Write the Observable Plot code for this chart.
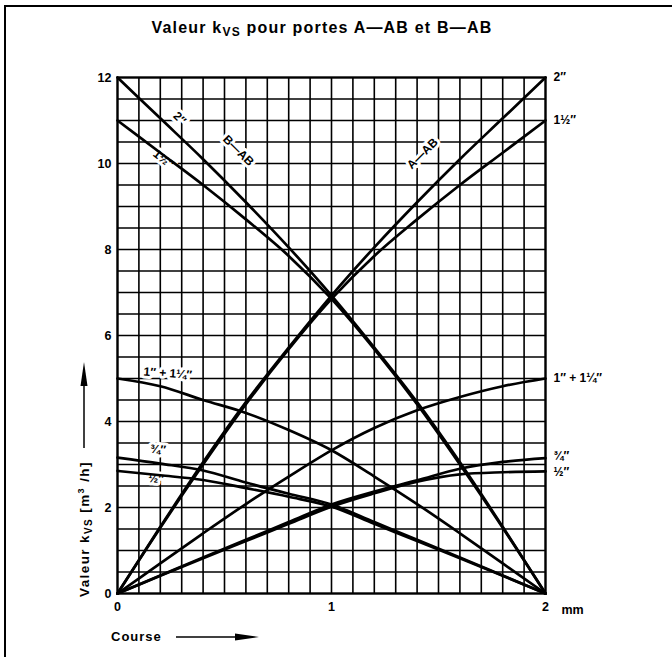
<!DOCTYPE html>
<html><head><meta charset="utf-8">
<script src="https://cdn.jsdelivr.net/npm/d3@7"></script>
<script src="https://cdn.jsdelivr.net/npm/@observablehq/plot@0.6"></script>
<style>
html,body{margin:0;padding:0;background:#fff;}
#wrap{position:relative;width:672px;height:657px;overflow:hidden;font-family:"Liberation Sans",Arial,sans-serif;}
#topline{position:absolute;left:4px;top:5px;width:668px;height:2px;background:#000;}
#leftline{position:absolute;left:4px;top:5px;width:2px;height:652px;background:#000;}
#title{position:absolute;left:-14px;top:19px;width:672px;text-align:center;font-weight:bold;font-size:16px;line-height:18px;letter-spacing:1.2px;color:#000;}
#title sub{font-size:12px;vertical-align:-3px;line-height:0;}
#chart{position:absolute;left:0;top:0;}
</style></head>
<body>
<div id="wrap">
  <div id="chart"></div>
  <div id="topline"></div>
  <div id="leftline"></div>
  <div id="title">Valeur k<sub>VS</sub> pour portes A—AB et B—AB</div>
</div>
<script>
// Course (mm)
const course = [0, 0.2, 0.4, 0.6, 0.8, 1.0, 1.2, 1.4, 1.6, 1.8, 2.0];
// A–AB port kvs values
const aab_2     = [0, 1.55, 3.05, 4.45, 5.72, 6.93, 8.05, 9.1, 10.1, 11.05, 12];
const aab_1_5   = [0, 1.53, 3.0, 4.4, 5.68, 6.85, 7.85, 8.7, 9.5, 10.25, 11.0];
const aab_1_125 = [0, 0.7, 1.4, 2.08, 2.72, 3.33, 3.85, 4.26, 4.57, 4.82, 5.0];
const aab_0_75  = [0, 0.42, 0.84, 1.25, 1.66, 2.07, 2.37, 2.63, 2.9, 3.06, 3.15];
const aab_0_5   = [0, 0.41, 0.82, 1.22, 1.62, 2.02, 2.33, 2.6, 2.77, 2.82, 2.84];
// B–AB port kvs values
const bab_2     = [12, 11.05, 10.1, 9.1, 8.05, 6.93, 5.72, 4.45, 3.05, 1.55, 0];
const bab_1_5   = [11, 10.25, 9.5, 8.7, 7.85, 6.85, 5.68, 4.4, 3.0, 1.53, 0];
const bab_1_125 = [5.0, 4.82, 4.5, 4.2, 3.8, 3.33, 2.72, 2.08, 1.4, 0.7, 0];
const bab_0_75  = [3.16, 3.02, 2.86, 2.58, 2.32, 2.07, 1.66, 1.25, 0.84, 0.42, 0];
const bab_0_5   = [2.85, 2.75, 2.64, 2.45, 2.25, 2.02, 1.62, 1.22, 0.82, 0.41, 0];

const seriesNames = ["A 2", "A 1.5", "A 1+1.25", "A 0.75", "A 0.5", "B 2", "B 1.5", "B 1+1.25", "B 0.75", "B 0.5"];
const seriesValues = [aab_2, aab_1_5, aab_1_125, aab_0_75, aab_0_5, bab_2, bab_1_5, bab_1_125, bab_0_75, bab_0_5];

// Tick values
const xTicks = [0, 1, 2];
const yTicks = [0, 2, 4, 6, 8, 10, 12];
const xGrid = d3.range(0, 21).map(i => i / 10);
const yGrid = d3.range(0, 25).map(i => i / 2);

// Labels (data coordinates)
const rightLabels = ["2″", "1½″", "1″ + 1¼″", "¾″", "½″"];
const rightLabelK = [12, 11, 5, 3.2, 2.82];
const leftLabels = ["1″ + 1¼″", "¾″", "½″"];
const leftLabelX = [0.235, 0.19, 0.18];
const leftLabelK = [5.12, 3.35, 2.67];

const rows = seriesNames.flatMap((s, i) => course.map((c, j) => ({series: s, x: c, k: seriesValues[i][j]})));

const halo = {stroke: "white", strokeWidth: 6, paintOrder: "stroke", fill: "black", fontWeight: "bold", fontSize: 12};

const plot = Plot.plot({
  width: 672,
  height: 657,
  marginLeft: 117,
  marginRight: 127,
  marginTop: 77,
  marginBottom: 64,
  style: {fontFamily: "'Liberation Sans', Arial, sans-serif", fontSize: "12.5px", fontWeight: "bold", color: "black", background: "white"},
  x: {domain: [0, 2], axis: null},
  y: {domain: [0, 12], axis: null},
  marks: [
    Plot.gridX(xGrid, {stroke: "black", strokeOpacity: 1, strokeWidth: 1.6}),
    Plot.gridY(yGrid, {stroke: "black", strokeOpacity: 1, strokeWidth: 1.6}),
    Plot.frame({stroke: "black", strokeWidth: 2.2}),
    // in-plot labels with white knock-out
    Plot.text([{x: 0.29, k: 11.05, t: "2″"}], {x: "x", y: "k", text: "t", rotate: 44, ...halo}),
    Plot.text([{x: 0.215, k: 10.1, t: "1½″"}], {x: "x", y: "k", text: "t", rotate: 38, ...halo}),
    Plot.text([{x: 0.565, k: 10.3, t: "B—AB"}], {x: "x", y: "k", text: "t", rotate: 45, ...halo}),
    Plot.text([{x: 1.425, k: 10.23, t: "A—AB"}], {x: "x", y: "k", text: "t", rotate: -45, ...halo}),
    Plot.text(leftLabels.map((t, i) => ({t, x: leftLabelX[i], k: leftLabelK[i]})), {x: "x", y: "k", text: "t", rotate: 4, ...halo}),
    Plot.line(rows, {x: "x", y: "k", z: "series", stroke: "black", strokeWidth: 2.7, curve: "monotone-x"}),
    // right-hand labels
    Plot.text(rightLabels.map((t, i) => ({t, k: rightLabelK[i]})), {x: () => 2, y: "k", text: "t", textAnchor: "start", dx: 8, fontWeight: "bold", fontSize: 12, fill: "black"}),
    Plot.axisX(xTicks, {tickSize: 0, tickPadding: 9, tickFormat: d => String(d), fontWeight: "bold", fontSize: 12.5, label: null}),
    Plot.axisY(yTicks, {tickSize: 0, tickPadding: 6, tickFormat: d => String(d), fontWeight: "bold", fontSize: 12.5, label: null}),
    Plot.text([{x: 2, k: 0, t: "mm"}], {x: "x", y: "k", text: "t", textAnchor: "start", dx: 16, dy: 16, fontWeight: "bold", fontSize: 12.5, fill: "black"})
  ]
});
document.getElementById("chart").appendChild(plot);

// Axis titles with arrows
const svg = d3.select(plot);
const g = svg.append("g").attr("fill", "black").attr("font-family", "'Liberation Sans', Arial, sans-serif").attr("font-weight", "bold").attr("text-anchor", "start");
// y title
const yt = g.append("text").attr("transform", "translate(89,597) rotate(-90)").attr("text-anchor", "start").attr("font-size", 13.5).attr("letter-spacing", 1.4);
yt.append("tspan").text("Valeur k");
yt.append("tspan").attr("font-size", 10).attr("dy", 3).text("VS");
yt.append("tspan").attr("dy", -3).text(" [m");
yt.append("tspan").attr("font-size", 9).attr("dy", -5).text("3");
yt.append("tspan").attr("dy", 5).text(" /h]");
g.append("line").attr("x1", 84).attr("x2", 84).attr("y1", 448).attr("y2", 380).attr("stroke", "black").attr("stroke-width", 1.5);
g.append("path").attr("d", "M84,362 L80.5,386 L87.5,386 Z");
// x title
g.append("text").attr("x", 111).attr("y", 641).attr("text-anchor", "start").attr("font-size", 13).attr("letter-spacing", 1).text("Course");
g.append("line").attr("x1", 176).attr("x2", 240).attr("y1", 637).attr("y2", 637).attr("stroke", "black").attr("stroke-width", 1.5);
g.append("path").attr("d", "M259,637 L235,633.5 L235,640.5 Z");
</script>
</body></html>
